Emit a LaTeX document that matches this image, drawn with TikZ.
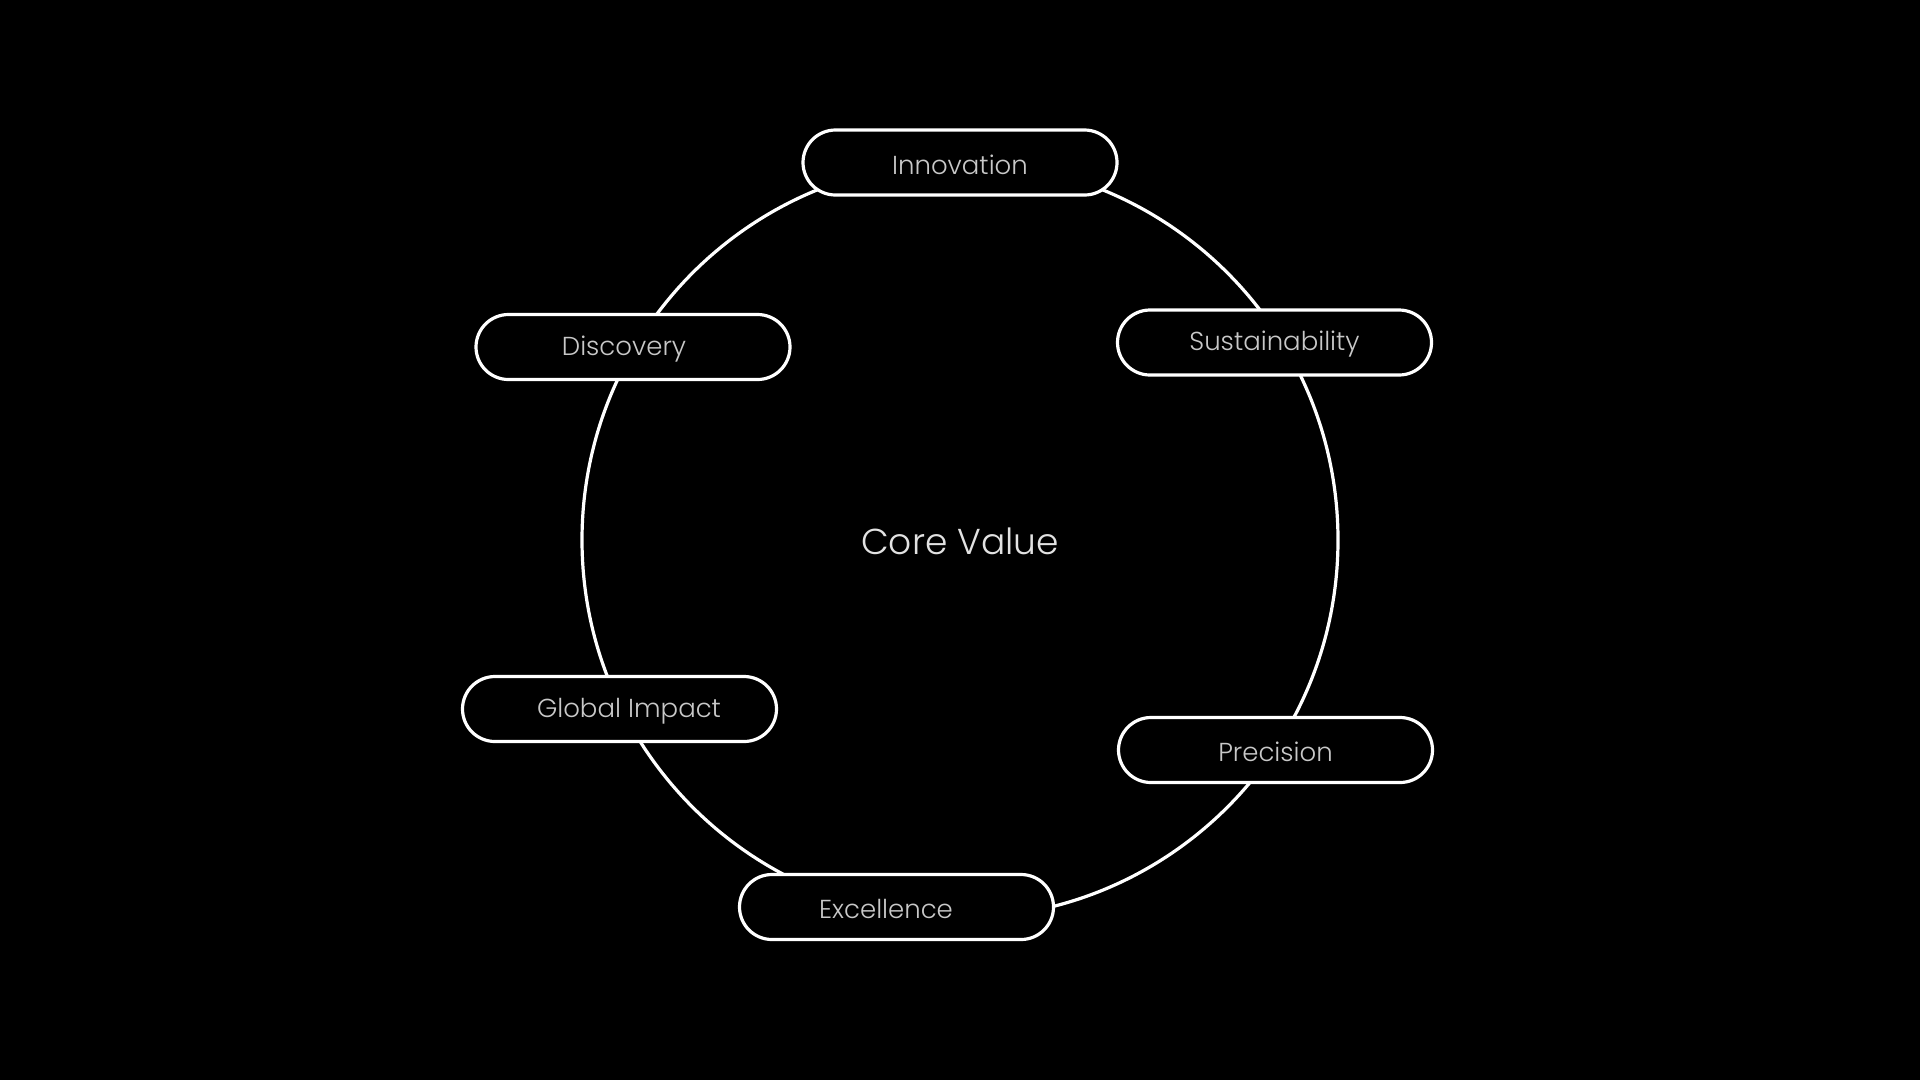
\documentclass[tikz,border=0pt]{standalone}
\usepackage{fontspec}
\setmainfont{Poppins}[UprightFont={* Light}]
\usetikzlibrary{shapes.misc}
\begin{document}
\begin{tikzpicture}[x=1pt,y=-1pt,
  pill/.style={draw=white, line width=3.2pt, fill=black, rounded rectangle, minimum width=314pt, minimum height=65pt, inner sep=0pt},
  lbl/.style={text=labelgray, font=\fontsize{26}{30}\selectfont},
  ring/.style={draw=white, line width=3.2pt}]
\definecolor{labelgray}{HTML}{C8C8C8}
\definecolor{coregray}{HTML}{E2E2E2}
\fill[black] (0,0) rectangle (1920,1080);
\useasboundingbox (0,0) rectangle (1920,1080);
\node[circle, minimum size=756pt, inner sep=0pt, ring] (ring) at (960,540) {};
\node[text=coregray, font=\fontsize{36}{40}\selectfont] (core) at (960,541) {Core Value};
\node[pill] (innov) at (960,162.5) {};
\node[pill] (sust) at (1274.5,342.5) {};
\node[pill] (disc) at (633,347) {};
\node[pill] (glob) at (619.5,709) {};
\node[pill] (prec) at (1275.5,750) {};
\node[pill] (exc) at (896.5,907) {};
\node[lbl] (innovt) at (960,164.5) {Innovation};
\node[lbl] (sustt) at (1274.5,344.5) {Sustainability};
\node[lbl] (disct) at (624,349) {Discovery};
\node[lbl] (globt) at (629,711) {Global Impact};
\node[lbl] (prect) at (1275.5,752) {Precision};
\node[lbl] (exct) at (886,909) {Excellence};
\end{tikzpicture}
\end{document}
